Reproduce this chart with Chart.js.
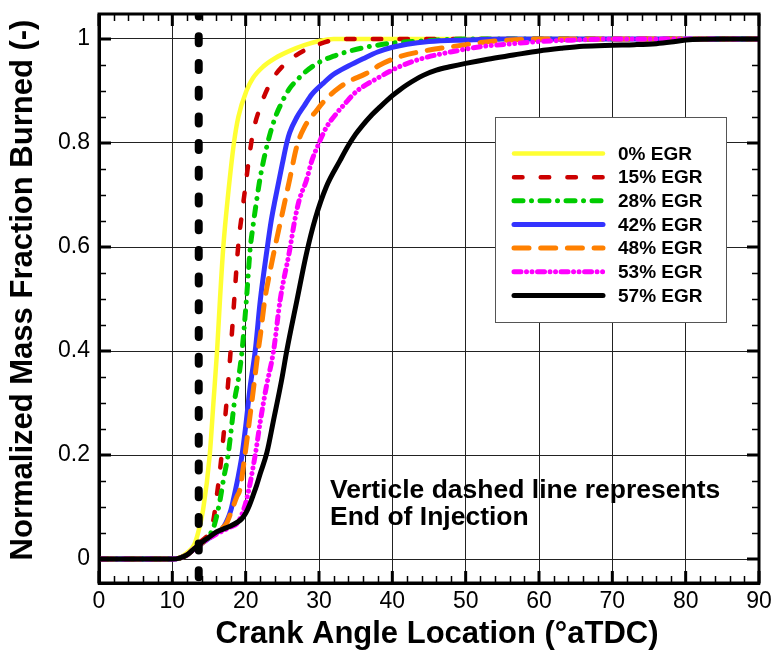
<!DOCTYPE html>
<html><head><meta charset="utf-8">
<script src="https://cdn.jsdelivr.net/npm/chart.js@4.4.1/dist/chart.umd.min.js"></script>
<style>html,body{margin:0;padding:0;background:#fff;}#wrap{width:777px;height:651px;}</style>
</head><body><div id="wrap"><canvas id="c" width="777" height="651"></canvas></div>
<script>
// ---------- data ----------
const X_TICKS = [0,10,20,30,40,50,60,70,80,90];
const Y_TICKS = [0,0.2,0.4,0.6,0.8,1];
const Y_TICK_LABELS = ['0','0.2','0.4','0.6','0.8','1'];
const SERIES_LABELS = ['0% EGR','15% EGR','28% EGR','42% EGR','48% EGR','53% EGR','57% EGR'];

const EGR0_CA  = [0,10,11,12,13,13.5,14.2,15.1,15.6,16.1,16.5,16.95,17.6,18.4,19,20.1,21,22.4,24,26,28,30,32,90];
const EGR0_MFB = [0,0,0.003,0.012,0.028,0.05,0.095,0.2,0.3,0.4,0.5,0.6,0.7,0.8,0.85,0.9,0.925,0.947,0.963,0.977,0.988,0.996,1.0,1.0];

const EGR15_CA  = [0,10,11,12,13,14,15,15.6,16,16.5,17,17.5,18,18.5,19,19.5,20,20.5,21,22,23,24,25,26,28,30,32,34,90];
const EGR15_MFB = [0,0,0.002,0.008,0.02,0.035,0.05,0.075,0.115,0.171,0.24,0.32,0.41,0.51,0.605,0.665,0.72,0.775,0.82,0.87,0.905,0.93,0.947,0.96,0.978,0.99,0.998,1.0,1.0];

const EGR28_CA  = [0,10,11,12,13,14,15,15.6,16,16.5,17,17.6,18,18.5,19,19.5,20.1,20.6,21,21.5,22,23,24,25,26,27,28,30,32,34,36,38,40,45,50,90];
const EGR28_MFB = [0,0,0.002,0.008,0.02,0.03,0.045,0.06,0.08,0.113,0.155,0.2,0.245,0.306,0.345,0.40,0.498,0.594,0.64,0.69,0.735,0.8,0.848,0.88,0.905,0.921,0.935,0.955,0.967,0.976,0.983,0.988,0.992,0.997,1.0,1.0];

const EGR42_CA  = [0,10,11,12,13,14,15,16,17,18,18.3,19,19.5,20,20.6,21.3,22,22.9,23.5,24,25,25.6,26,27,28,29,30.6,32,34,36,38,40,42,45,50,55,90];
const EGR42_MFB = [0,0,0.002,0.008,0.02,0.03,0.04,0.05,0.062,0.095,0.113,0.16,0.2,0.255,0.33,0.40,0.498,0.594,0.652,0.69,0.76,0.80,0.82,0.85,0.872,0.893,0.915,0.932,0.948,0.962,0.975,0.984,0.99,0.995,0.998,1.0,1.0];

const EGR48_CA  = [0,10,11,12,13,14,15,16,17,17.4,18,18.8,19.2,19.9,20.5,21,21.7,22,22.6,23,24,25,26,27,28,29.7,31,32.9,34,36.5,38.3,41,44,46.5,50,52,55,60,90];
const EGR48_MFB = [0,0,0.002,0.008,0.02,0.03,0.042,0.05,0.062,0.069,0.09,0.12,0.133,0.2,0.265,0.32,0.40,0.43,0.498,0.53,0.6,0.665,0.73,0.795,0.83,0.863,0.885,0.908,0.918,0.934,0.95,0.966,0.976,0.982,0.989,0.993,0.997,1.0,1.0];

const EGR53_CA  = [0,10,11,12,13,14,15,16,17,18,19,20.1,21.3,22,22.8,23.8,24.7,26,26.7,27.3,28.3,29,30,31,32.4,33.5,35.1,37.9,41,44.2,48.3,52,56.5,60,65,70,90];
const EGR53_MFB = [0,0,0.002,0.008,0.02,0.03,0.04,0.048,0.055,0.062,0.072,0.113,0.2,0.265,0.33,0.40,0.498,0.594,0.652,0.69,0.729,0.765,0.80,0.83,0.857,0.875,0.899,0.924,0.947,0.963,0.976,0.985,0.991,0.995,0.998,1.0,1.0];

const EGR57_CA  = [0,10,11,12,13,14,15,16,17,18,19,19.5,20,20.5,21,21.5,22,22.9,23.8,24.9,25.6,27,28.3,29.5,31,32.9,34,35,36,37,38.3,40,41,42,44.2,46,48,50,53,56.5,60,63,66,70,73,76,78,80,85,90];
const EGR57_MFB = [0,0,0.002,0.008,0.02,0.032,0.042,0.052,0.058,0.064,0.072,0.078,0.088,0.103,0.122,0.142,0.165,0.205,0.267,0.344,0.40,0.498,0.588,0.655,0.716,0.767,0.795,0.817,0.835,0.851,0.869,0.891,0.902,0.912,0.93,0.94,0.947,0.953,0.961,0.969,0.977,0.982,0.986,0.988,0.989,0.991,0.994,0.998,1.0,1.0];

// end of injection (vertical dashed line)
const EOI_CA = [13.6, 13.6];
const EOI_SPAN = [-0.035, 1.045];

// ---------- chart ----------
const FONT = "'Liberation Sans', Arial, Helvetica, sans-serif";
const pts = (xs, ys) => xs.map((x, i) => ({x, y: ys[i]}));

const STYLES = [
  {c:'#ffff33', w:4.5, d:[]},
  {c:'#cc0000', w:4.5, d:[8.5,18.2]},
  {c:'#00cc00', w:5, d:[9,8.5,0.01,8.5]},
  {c:'#3333ff', w:5, d:[]},
  {c:'#ff8000', w:5, d:[15,11.7]},
  {c:'#ff00ff', w:5, d:[7,5.5,0.01,5.5,0.01,5.5]},
  {c:'#000000', w:5, d:[]}
];
const SERIES = [
  [EGR0_CA,EGR0_MFB],[EGR15_CA,EGR15_MFB],[EGR28_CA,EGR28_MFB],[EGR42_CA,EGR42_MFB],
  [EGR48_CA,EGR48_MFB],[EGR53_CA,EGR53_MFB],[EGR57_CA,EGR57_MFB]
];

const datasets = SERIES.map((s, i) => ({
  label: SERIES_LABELS[i],
  data: pts(s[0], s[1]),
  borderColor: STYLES[i].c,
  borderWidth: STYLES[i].w,
  borderDash: STYLES[i].d,
  borderCapStyle: 'round',
  borderJoinStyle: 'round',
  pointRadius: 0,
  cubicInterpolationMode: 'monotone',
  fill: false,
  order: 7 - i
}));
datasets.push({
  label: 'EOI',
  data: pts(EOI_CA, EOI_SPAN),
  borderColor: '#000',
  borderWidth: 8,
  borderDash: [7, 19.7],
  borderCapStyle: 'round',
  pointRadius: 0,
  fill: false,
  order: 0
});

const frameTicks = {
  id: 'frameTicks',
  afterDatasetsDraw(chart) {
    const {ctx, chartArea: a, scales: {x, y}} = chart;
    ctx.save();
    ctx.strokeStyle = '#000';
    ctx.lineCap = 'butt';
    ctx.lineWidth = 1.5;
    ctx.beginPath();
    for (let v = 2; v < 90; v += 2) {
      if (v % 10 === 0) continue;
      const px = Math.round(x.getPixelForValue(v)) + 0.5;
      ctx.moveTo(px, a.bottom); ctx.lineTo(px, a.bottom - 7);
      ctx.moveTo(px, a.top); ctx.lineTo(px, a.top + 7);
    }
    for (let k = 0; k <= 20; k++) {
      if (k % 4 === 0) continue;
      const py = Math.round(y.getPixelForValue(k * 0.05)) + 0.5;
      ctx.moveTo(a.left, py); ctx.lineTo(a.left + 7, py);
      ctx.moveTo(a.right, py); ctx.lineTo(a.right - 7, py);
    }
    ctx.stroke();
    ctx.lineWidth = 3;
    ctx.beginPath();
    X_TICKS.forEach(v => {
      const px = x.getPixelForValue(v);
      ctx.moveTo(px, a.bottom); ctx.lineTo(px, a.bottom - 12);
      ctx.moveTo(px, a.top); ctx.lineTo(px, a.top + 12);
    });
    Y_TICKS.forEach(v => {
      const py = y.getPixelForValue(v);
      ctx.moveTo(a.left, py); ctx.lineTo(a.left + 12, py);
      ctx.moveTo(a.right, py); ctx.lineTo(a.right - 12, py);
    });
    ctx.stroke();
    ctx.lineWidth = 3;
    ctx.strokeRect(a.left, a.top, a.right - a.left, a.bottom - a.top);
    ctx.restore();
  }
};

const boxLegend = {
  id: 'boxLegend',
  afterDatasetsDraw(chart) {
    const ctx = chart.ctx;
    ctx.save();
    ctx.fillStyle = '#fff';
    ctx.fillRect(495, 117, 231, 205);
    ctx.strokeStyle = '#555';
    ctx.lineWidth = 1;
    ctx.strokeRect(495.5, 117.5, 231, 205);
    ctx.font = 'bold 19px ' + FONT;
    ctx.textBaseline = 'middle';
    ctx.textAlign = 'left';
    chart.data.datasets.forEach((ds, i) => {
      if (!SERIES_LABELS.includes(ds.label)) return;
      const yy = 153.5 + i * 23.65;
      ctx.beginPath();
      ctx.strokeStyle = ds.borderColor;
      ctx.lineWidth = ds.borderWidth;
      ctx.lineCap = 'round';
      ctx.setLineDash(ds.borderDash || []);
      ctx.moveTo(514, yy); ctx.lineTo(603, yy);
      ctx.stroke();
      ctx.setLineDash([]);
      ctx.fillStyle = '#000';
      ctx.fillText(ds.label, 618, yy + 1);
    });
    ctx.font = 'bold 26.5px ' + FONT;
    ctx.fillStyle = '#000';
    ctx.fillText('Verticle dashed line represents', 330, 491);
    ctx.fillText('End of Injection', 330, 518);
    // axis titles
    ctx.font = 'bold 31px ' + FONT;
    ctx.textAlign = 'center';
    ctx.fillText('Crank Angle Location (\u00B0aTDC)', 437, 634);
    ctx.translate(23, 290);
    ctx.rotate(-Math.PI / 2);
    ctx.fillText('Normalized Mass Fraction Burned (-)', 0, 0);
    ctx.restore();
  }
};

new Chart(document.getElementById('c'), {
  type: 'line',
  data: { datasets },
  options: {
    responsive: false,
    animation: false,
    devicePixelRatio: 1,
    layout: { padding: { left: 0, top: 14, right: 18, bottom: 0 } },
    plugins: { legend: { display: false }, tooltip: { enabled: false } },
    scales: {
      x: {
        type: 'linear', min: 0, max: 90,
        afterBuildTicks: s => { s.ticks = X_TICKS.map(v => ({value: v})); },
        afterFit: s => { s.height = 68; s.paddingLeft = 0; s.paddingRight = 0; },
        ticks: { font: { family: FONT, size: 23 }, color: '#000', padding: 5, maxRotation: 0 },
        grid: { color: '#222', lineWidth: 1, drawTicks: false },
        border: { color: '#000', width: 3 }
      },
      y: {
        type: 'linear', min: -0.046, max: 1.048,
        afterBuildTicks: s => { s.ticks = Y_TICKS.map(v => ({value: v})); },
        afterFit: s => { s.width = 99; s.paddingTop = 0; s.paddingBottom = 0; },
        ticks: { font: { family: FONT, size: 23 }, color: '#000', padding: 9,
                 callback: (v, i) => Y_TICK_LABELS[i] },
        grid: { color: '#222', lineWidth: 1, drawTicks: false },
        border: { color: '#000', width: 3 }
      }
    }
  },
  plugins: [frameTicks, boxLegend]
});
</script></body></html>
